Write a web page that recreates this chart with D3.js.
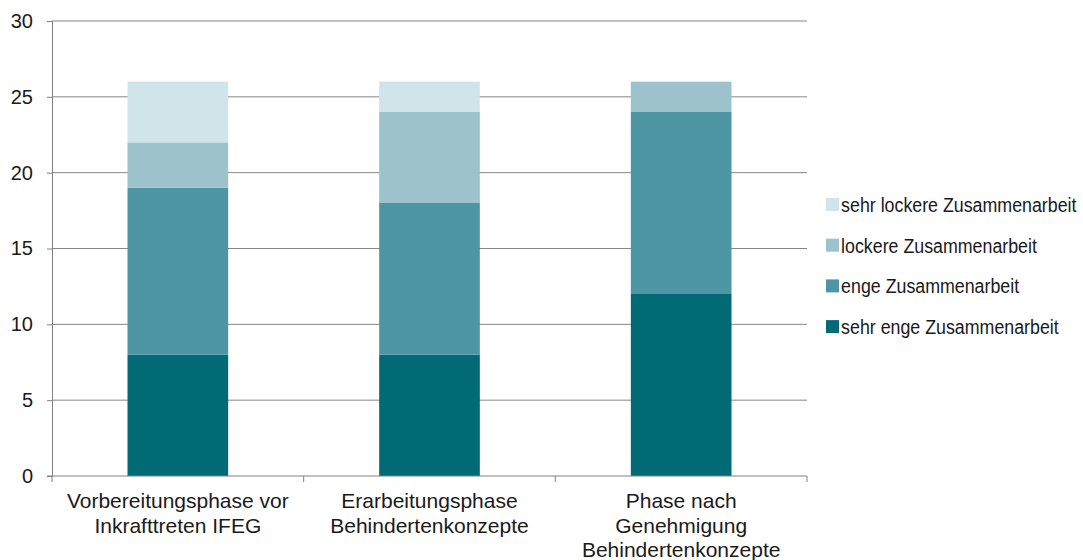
<!DOCTYPE html>
<html>
<head>
<meta charset="utf-8">
<script src="https://cdn.jsdelivr.net/npm/d3@7"></script>
<style>
  body { margin: 0; background: #fff; }
  text { font-family: "Liberation Sans", Arial, sans-serif; fill: #1a1a1a; }
</style>
</head>
<body>
<div id="chart"></div>
<script>
// categories (x axis), one label line per entry
const categories = [
    ["Vorbereitungsphase vor", "Inkrafttreten IFEG"],
    ["Erarbeitungsphase", "Behindertenkonzepte"],
    ["Phase nach", "Genehmigung", "Behindertenkonzepte"]
];
// series, bottom to top
const seriesNames = ["sehr enge Zusammenarbeit", "enge Zusammenarbeit", "lockere Zusammenarbeit", "sehr lockere Zusammenarbeit"];
const sehrEng = [8, 8, 12];
const eng = [11, 10, 12];
const locker = [3, 6, 2];
const sehrLocker = [4, 2, 0];
const yTicks = [0, 5, 10, 15, 20, 25, 30];
const colors = ["#006b75", "#4f96a5", "#9cc2cb", "#d0e5ea"];

const width = 1083, height = 560;
const margin = { top: 21, right: 276, bottom: 84, left: 52 };
const w = width - margin.left - margin.right;
const h = height - margin.top - margin.bottom;

const svg = d3.select('#chart').append('svg')
    .attr('width', width)
    .attr('height', height);
const plot = svg.append('g')
    .attr('transform', `translate(${margin.left},${margin.top})`);

// build rows for the stack
const values = [sehrEng, eng, locker, sehrLocker];
const rows = categories.map((c, i) => {
    const r = { idx: i };
    seriesNames.forEach((s, j) => r[s] = values[j][i]);
    return r;
});
const stacked = d3.stack().keys(seriesNames)(rows);

const x = d3.scaleBand()
    .domain(d3.range(categories.length))
    .range([0, w])
    .paddingInner(0.6)
    .paddingOuter(0.3);
const y = d3.scaleLinear().domain([0, 30]).range([h, 0]);

// gridlines
plot.append('g')
    .selectAll('line')
    .data(yTicks.filter(t => t > 0))
    .enter().append('line')
    .attr('x1', 0).attr('x2', w)
    .attr('y1', d => y(d)).attr('y2', d => y(d))
    .attr('stroke', '#868686')
    .attr('stroke-width', 1);

// bars
plot.selectAll('g.series')
    .data(stacked)
    .enter().append('g')
    .classed('series', true)
    .attr('fill', (d, i) => colors[i])
    .selectAll('rect')
    .data(d => d)
    .enter().append('rect')
    .attr('x', (d, i) => x(i))
    .attr('width', x.bandwidth())
    .attr('y', d => y(d[1]))
    .attr('height', d => y(d[0]) - y(d[1]));

// y axis
const yAxis = plot.append('g')
    .call(d3.axisLeft(y).tickValues(yTicks).tickSize(5).tickPadding(14));
yAxis.select('.domain').attr('stroke', '#808080');
yAxis.selectAll('.tick line').attr('stroke', '#808080');
yAxis.selectAll('.tick text')
    .style('font-size', '20px')
    .style('font-family', '"Liberation Sans", Arial, sans-serif')
    .attr('fill', '#1a1a1a');

// x axis: baseline and ticks at category boundaries
const step = w / categories.length;
const xAxis = plot.append('g').attr('transform', `translate(0,${h})`);
xAxis.append('line')
    .attr('x1', -5).attr('x2', w)
    .attr('stroke', '#808080');
xAxis.selectAll('line.tk')
    .data(d3.range(categories.length + 1))
    .enter().append('line')
    .classed('tk', true)
    .attr('x1', d => d * step).attr('x2', d => d * step)
    .attr('y1', 0).attr('y2', 6)
    .attr('stroke', '#808080');

// category labels
const labels = xAxis.selectAll('text.cat')
    .data(categories)
    .enter().append('text')
    .classed('cat', true)
    .attr('text-anchor', 'middle')
    .attr('y', 32)
    .style('font-size', '21px');
labels.selectAll('tspan')
    .data((d, i) => d.map(line => ({ line, i })))
    .enter().append('tspan')
    .attr('x', d => x(d.i) + x.bandwidth() / 2)
    .attr('dy', (d, k) => k === 0 ? 0 : 24.5)
    .text(d => d.line);

// legend, top entry is the last series
const legend = svg.append('g')
    .attr('transform', `translate(826,198)`);
const legendItems = legend.selectAll('g')
    .data(seriesNames.slice().reverse())
    .enter().append('g')
    .attr('transform', (d, i) => `translate(0,${i * 40.7})`);
legendItems.append('rect')
    .attr('width', 13).attr('height', 13)
    .attr('fill', (d, i) => colors[colors.length - 1 - i]);
legendItems.append('text')
    .attr('x', 17)
    .attr('y', 7)
    .attr('dy', '0.35em')
    .attr('transform', 'scale(0.89,1)')
    .style('font-size', '20px')
    .text(d => d);
</script>
</body>
</html>
